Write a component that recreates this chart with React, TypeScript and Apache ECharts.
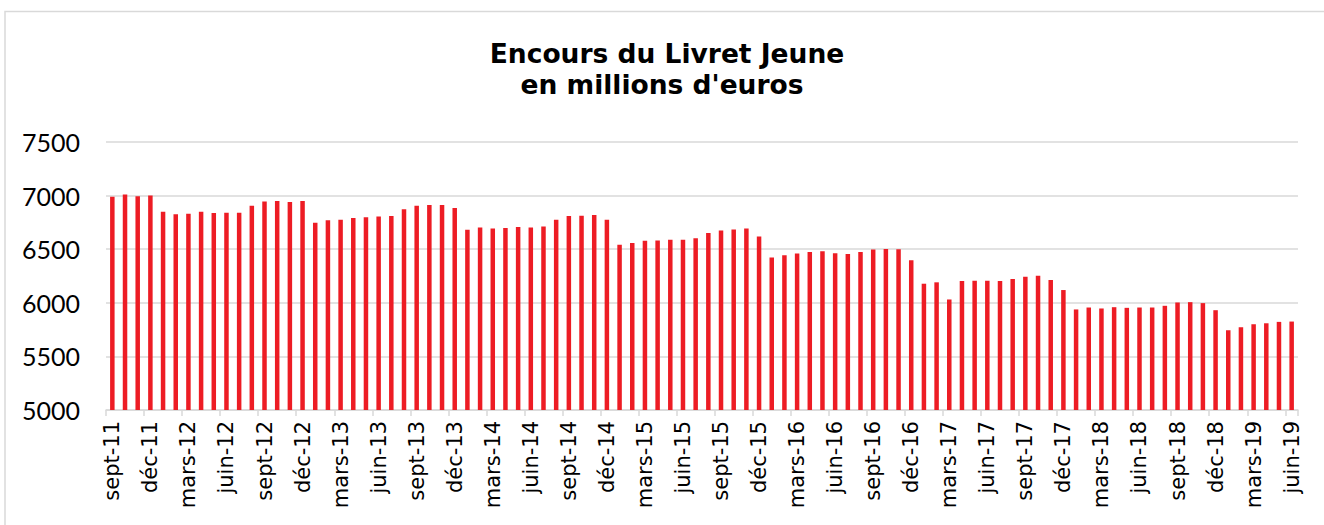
import React, { useEffect, useRef } from "react";
import * as echarts from "echarts";

const monthNames = ["janv", "févr", "mars", "avr", "mai", "juin", "juil", "août", "sept", "oct", "nov", "déc"];
const startYear = 2011;
const startMonth = 8; // sept
const monthCount = 94;

const categories: string[] = [];
for (let i = 0; i < monthCount; i++) {
  const m = (startMonth + i) % 12;
  const y = startYear + Math.floor((startMonth + i) / 12);
  categories.push(`${monthNames[m]}-${String(y % 100).padStart(2, "0")}`);
}

const encours = [
  6990, 7010, 6995, 7000, 6850, 6825, 6830, 6850, 6838, 6841, 6841, 6906,
  6944, 6950, 6941, 6950, 6747, 6769, 6775, 6791, 6797, 6806, 6809, 6872,
  6906, 6912, 6912, 6884, 6681, 6703, 6694, 6697, 6706, 6703, 6712, 6775,
  6809, 6812, 6819, 6775, 6541, 6559, 6578, 6581, 6588, 6588, 6603, 6650,
  6675, 6684, 6694, 6619, 6422, 6444, 6459, 6475, 6481, 6463, 6456, 6475,
  6497, 6503, 6500, 6397, 6178, 6191, 6031, 6203, 6206, 6206, 6203, 6222,
  6244, 6253, 6213, 6119, 5938, 5956, 5947, 5959, 5953, 5956, 5956, 5972,
  6003, 6006, 5997, 5931, 5744, 5772, 5800, 5809, 5822, 5825,
];

const titleLines = ["Encours du Livret Jeune", "en millions d'euros"];
const yMin = 5000;
const yMax = 7500;
const yStep = 500;

const TITLE_FONT = "'DejaVu Sans', sans-serif";
const AXIS_FONT = "'DejaVu Sans', sans-serif";
const Y_FONT = "Lato, sans-serif";

export default function App() {
  const ref = useRef<HTMLDivElement>(null);
  useEffect(() => {
    if (!ref.current) return;
    const chart = echarts.init(ref.current, null, { renderer: "svg" });
    chart.setOption({
      animation: false,
      backgroundColor: "#ffffff",
      graphic: [
        {
          type: "rect",
          shape: { x: 5, y: 11.5, width: 1340, height: 540 },
          style: { fill: "none", stroke: "#d9d9d9", lineWidth: 1.5 },
          silent: true,
        },
        {
          type: "text",
          x: 667,
          y: 40,
          style: { text: titleLines[0], font: `bold 26.5px ${TITLE_FONT}`, fill: "#000", align: "center", verticalAlign: "top" },
        },
        {
          type: "text",
          x: 662,
          y: 71,
          style: { text: titleLines[1], font: `bold 26.5px ${TITLE_FONT}`, fill: "#000", align: "center", verticalAlign: "top" },
        },
      ],
      grid: { left: 106, right: 26, top: 142, bottom: 115, containLabel: false },
      xAxis: {
        type: "category",
        data: categories,
        boundaryGap: true,
        axisLine: { show: true, lineStyle: { color: "#d9d9d9", width: 1.5 } },
        axisTick: { show: true, interval: 2, length: 6, lineStyle: { color: "#d9d9d9", width: 1.5 } },
        axisLabel: {
          interval: 2,
          rotate: 90,
          margin: 11,
          color: "#000",
          fontFamily: AXIS_FONT,
          fontSize: 21,
        },
      },
      yAxis: {
        type: "value",
        min: yMin,
        max: yMax,
        interval: yStep,
        axisLine: { show: false },
        axisTick: { show: false },
        splitLine: { show: true, lineStyle: { color: "#d9d9d9", width: 1.5 } },
        axisLabel: {
          margin: 26,
          color: "#000",
          fontFamily: Y_FONT,
          fontSize: 25,
          formatter: (v: number) => String(v),
        },
      },
      series: [
        {
          type: "bar",
          data: encours,
          barWidth: 4.5,
          itemStyle: { color: "#ed1c24" },
        },
      ],
    });
    return () => chart.dispose();
  }, []);
  return <div ref={ref} style={{ position: "fixed", left: 0, top: 0, width: 1324, height: 525 }} />;
}
